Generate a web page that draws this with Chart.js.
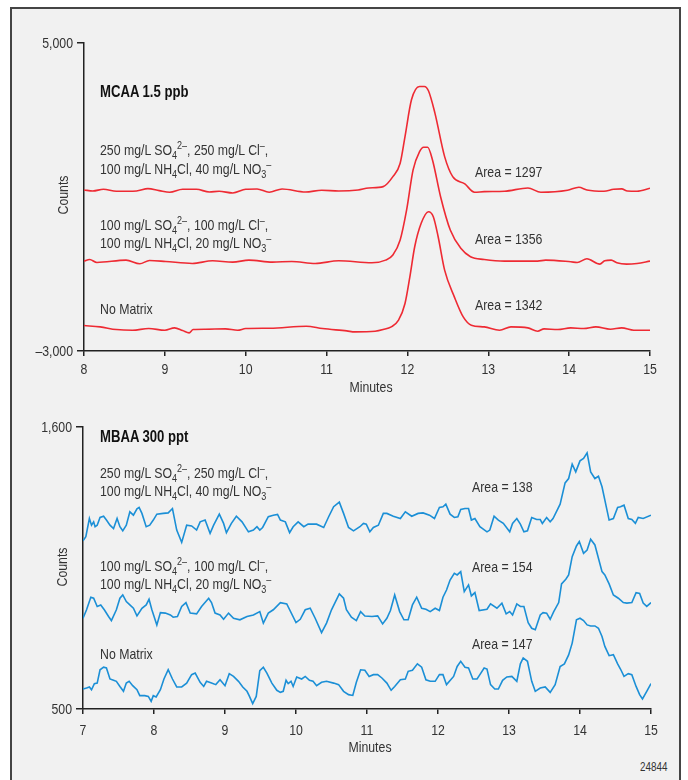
<!DOCTYPE html>
<html>
<head>
<meta charset="utf-8">
<script src="https://cdn.jsdelivr.net/npm/chart.js@4/dist/chart.umd.min.js"></script>
<style>
  html, body { margin:0; padding:0; background:#ffffff; }
  body { width:688px; height:780px; position:relative; overflow:hidden;
         font-family:'Liberation Sans',Arial,sans-serif; color:#333; }
  #frame { position:absolute; left:10px; top:7px; width:671px; height:800px;
           border:2px solid #444; background:#f1f1f1; box-sizing:border-box; }
  canvas { position:absolute; }
  .t { position:absolute; font-size:15px; line-height:15px; white-space:nowrap; color:#333;
       transform-origin:0 50%; transform:scaleX(0.82); }
  .c { transform-origin:50% 50%; transform:translateX(-50%) scaleX(0.82); }
  .b { font-weight:bold; color:#111; font-size:16px; }
  .sb { font-size:11px; position:relative; top:4px; }
  .sp { font-size:11px; position:relative; top:-6px; }
  .rot { transform-origin:50% 50%; transform:translate(-50%,-50%) rotate(-90deg) scaleX(0.82); }
</style>
</head>
<body>
<div id="frame"></div>
<canvas id="top" width="660" height="370" style="left:12px;top:20px"></canvas>
<canvas id="bot" width="660" height="350" style="left:12px;top:400px"></canvas>
<div id="labels"></div>
<script>
// ---------------- DATA ----------------
// Top panel: MCAA 1.5 ppb  [minutes, counts]
const mcaaXTicks = [8, 9, 10, 11, 12, 13, 14, 15];
const mcaaYTicks = [-3000, 5000];
const mcaaMatrix250 = [[8.00,1183],[8.11,1157],[8.24,1200],[8.40,1148],[8.65,1157],[8.79,1218],[8.93,1166],[9.06,1123],[9.22,1200],[9.39,1200],[9.55,1131],[9.67,1148],[9.84,1105],[10.00,1200],[10.14,1209],[10.29,1123],[10.45,1209],[10.74,1131],[10.94,1175],[11.15,1157],[11.39,1183],[11.52,1235],[11.70,1269],[11.82,1529],[11.91,1878],[11.97,2570],[12.05,3525],[12.15,3871],[12.21,3871],[12.26,3759],[12.34,3179],[12.46,2049],[12.56,1529],[12.71,1339],[12.83,1123],[12.95,1140],[13.20,1150],[13.49,1235],[13.65,1123],[13.98,1175],[14.12,1253],[14.22,1184],[14.43,1150],[14.55,1200],[14.65,1210],[14.72,1157],[14.84,1150],[15.00,1227]];
const mcaaMatrix100 = [[8.00,-665],[8.07,-622],[8.16,-700],[8.52,-640],[8.69,-735],[8.81,-648],[9.01,-674],[9.34,-726],[9.59,-657],[9.84,-691],[10.04,-640],[10.33,-691],[10.57,-674],[10.86,-726],[11.15,-657],[11.56,-709],[11.73,-640],[11.82,-508],[11.91,-118],[11.99,663],[12.07,1703],[12.15,2179],[12.20,2294],[12.25,2294],[12.31,1963],[12.41,1008],[12.53,142],[12.66,-334],[12.78,-553],[12.95,-622],[13.20,-665],[13.61,-665],[13.71,-640],[14.02,-683],[14.10,-700],[14.22,-605],[14.38,-744],[14.44,-657],[14.52,-640],[14.59,-709],[14.71,-744],[14.84,-726],[15.00,-665]];
const mcaaNoMatrix = [[8.00,-2339],[8.20,-2374],[8.40,-2443],[8.60,-2461],[8.80,-2417],[9.00,-2461],[9.12,-2400],[9.22,-2470],[9.30,-2530],[9.35,-2443],[9.50,-2435],[9.75,-2426],[9.90,-2461],[10.00,-2417],[10.30,-2409],[10.75,-2356],[10.95,-2417],[11.25,-2478],[11.35,-2504],[11.60,-2487],[11.70,-2443],[11.80,-2374],[11.89,-2200],[11.97,-1765],[12.03,-1073],[12.09,-292],[12.17,316],[12.26,618],[12.32,488],[12.38,-32],[12.46,-899],[12.58,-1593],[12.69,-2114],[12.79,-2330],[12.95,-2374],[13.14,-2461],[13.28,-2374],[13.49,-2400],[13.61,-2487],[13.69,-2426],[13.86,-2443],[14.02,-2400],[14.18,-2417],[14.33,-2374],[14.51,-2435],[14.65,-2400],[14.80,-2461],[15.00,-2461]];

// Bottom panel: MBAA 300 ppt  [minutes, counts]
const mbaaXTicks = [7, 8, 9, 10, 11, 12, 13, 14, 15];
const mbaaYTicks = [500, 1600];
const mbaaMatrix250 = [[7.00,1156],[7.04,1172],[7.09,1243],[7.12,1217],[7.15,1230],[7.17,1211],[7.20,1217],[7.24,1247],[7.29,1252],[7.33,1237],[7.38,1217],[7.43,1204],[7.48,1243],[7.52,1211],[7.56,1195],[7.61,1217],[7.66,1269],[7.71,1256],[7.76,1281],[7.79,1286],[7.83,1263],[7.89,1211],[7.94,1217],[7.99,1237],[8.04,1260],[8.13,1263],[8.20,1265],[8.26,1282],[8.32,1198],[8.39,1150],[8.46,1217],[8.53,1214],[8.60,1198],[8.65,1230],[8.72,1237],[8.79,1185],[8.84,1217],[8.92,1260],[8.98,1224],[9.02,1188],[9.09,1224],[9.16,1252],[9.24,1230],[9.33,1191],[9.40,1198],[9.45,1211],[9.49,1198],[9.53,1208],[9.61,1250],[9.68,1256],[9.74,1259],[9.78,1237],[9.85,1230],[9.91,1188],[9.96,1211],[10.03,1230],[10.11,1211],[10.17,1221],[10.29,1221],[10.39,1208],[10.46,1250],[10.53,1289],[10.61,1307],[10.67,1263],[10.74,1208],[10.81,1195],[10.90,1211],[10.95,1224],[10.99,1221],[11.04,1191],[11.09,1208],[11.16,1217],[11.23,1263],[11.28,1263],[11.37,1252],[11.47,1243],[11.54,1269],[11.63,1252],[11.72,1263],[11.79,1265],[11.88,1256],[11.95,1243],[12.02,1286],[12.07,1289],[12.11,1299],[12.17,1260],[12.23,1247],[12.28,1250],[12.32,1278],[12.38,1282],[12.43,1282],[12.47,1237],[12.52,1243],[12.59,1211],[12.69,1191],[12.73,1198],[12.79,1252],[12.85,1237],[12.92,1224],[13.01,1191],[13.05,1224],[13.11,1243],[13.16,1221],[13.21,1191],[13.26,1195],[13.32,1247],[13.39,1239],[13.44,1239],[13.47,1224],[13.53,1247],[13.58,1230],[13.62,1243],[13.72,1299],[13.79,1382],[13.84,1399],[13.89,1455],[13.94,1425],[14.00,1468],[14.05,1477],[14.10,1499],[14.15,1425],[14.21,1399],[14.26,1408],[14.31,1367],[14.41,1237],[14.47,1243],[14.53,1286],[14.57,1289],[14.62,1295],[14.68,1243],[14.73,1239],[14.78,1224],[14.82,1247],[14.89,1243],[15.00,1256]];
const mbaaMatrix100 = [[7.00,854],[7.05,887],[7.11,936],[7.15,932],[7.20,900],[7.25,906],[7.30,887],[7.36,861],[7.40,845],[7.47,887],[7.52,932],[7.56,945],[7.61,919],[7.66,906],[7.71,893],[7.76,863],[7.83,893],[7.89,906],[7.93,928],[7.97,887],[8.04,828],[8.09,876],[8.16,874],[8.23,867],[8.27,858],[8.33,861],[8.39,900],[8.45,915],[8.51,874],[8.60,871],[8.67,900],[8.77,932],[8.81,915],[8.86,874],[8.93,867],[8.98,850],[9.05,874],[9.12,854],[9.21,848],[9.31,861],[9.40,867],[9.49,880],[9.54,835],[9.61,874],[9.68,887],[9.78,915],[9.87,910],[10.00,837],[10.06,850],[10.13,887],[10.20,893],[10.27,854],[10.36,798],[10.43,835],[10.50,887],[10.61,949],[10.67,932],[10.71,887],[10.78,858],[10.85,845],[10.91,880],[10.97,863],[11.07,861],[11.15,863],[11.22,832],[11.28,854],[11.33,884],[11.39,945],[11.46,880],[11.52,848],[11.58,848],[11.64,906],[11.70,936],[11.77,893],[11.83,889],[11.89,880],[11.96,893],[12.02,884],[12.07,936],[12.12,964],[12.17,1003],[12.23,1029],[12.27,1023],[12.32,1036],[12.37,958],[12.43,984],[12.47,941],[12.52,954],[12.58,884],[12.69,889],[12.74,910],[12.83,893],[12.90,913],[12.96,871],[13.01,880],[13.05,867],[13.11,910],[13.16,900],[13.21,900],[13.27,837],[13.32,815],[13.37,809],[13.44,867],[13.48,876],[13.53,874],[13.58,850],[13.63,880],[13.70,915],[13.74,988],[13.80,1006],[13.84,1023],[13.89,1094],[13.95,1136],[13.99,1153],[14.05,1107],[14.10,1120],[14.15,1162],[14.21,1140],[14.31,1036],[14.35,1023],[14.41,988],[14.47,945],[14.54,932],[14.61,915],[14.66,913],[14.73,915],[14.79,954],[14.84,951],[14.89,913],[14.94,900],[15.00,915]];
const mbaaNoMatrix = [[7.00,578],[7.05,582],[7.09,586],[7.12,575],[7.16,599],[7.20,601],[7.24,653],[7.29,663],[7.33,660],[7.38,617],[7.43,612],[7.47,608],[7.52,588],[7.57,569],[7.61,601],[7.65,608],[7.70,591],[7.76,575],[7.80,552],[7.87,552],[7.92,549],[7.96,530],[7.99,552],[8.03,547],[8.09,575],[8.14,617],[8.20,653],[8.26,617],[8.32,586],[8.39,586],[8.46,601],[8.53,634],[8.58,640],[8.65,604],[8.70,588],[8.74,608],[8.81,601],[8.87,595],[8.93,614],[9.00,591],[9.06,638],[9.12,627],[9.19,608],[9.25,586],[9.31,569],[9.34,552],[9.39,521],[9.44,549],[9.49,650],[9.54,663],[9.59,640],[9.66,601],[9.73,573],[9.78,565],[9.82,569],[9.86,612],[9.89,599],[9.93,608],[9.96,588],[10.01,625],[10.08,617],[10.13,627],[10.19,612],[10.24,608],[10.29,591],[10.36,604],[10.43,608],[10.53,601],[10.60,595],[10.67,569],[10.74,556],[10.80,553],[10.85,604],[10.91,653],[10.97,651],[11.03,627],[11.09,634],[11.15,634],[11.21,621],[11.28,601],[11.34,573],[11.39,588],[11.47,614],[11.54,617],[11.58,647],[11.64,651],[11.71,676],[11.77,663],[11.83,614],[11.89,608],[11.96,608],[12.02,634],[12.07,634],[12.12,595],[12.22,627],[12.27,666],[12.32,686],[12.38,663],[12.43,660],[12.49,617],[12.55,617],[12.59,634],[12.65,660],[12.69,656],[12.74,595],[12.80,578],[12.85,578],[12.91,612],[12.97,625],[13.04,627],[13.11,608],[13.16,676],[13.20,699],[13.26,686],[13.32,608],[13.37,569],[13.44,582],[13.51,586],[13.58,565],[13.65,595],[13.72,666],[13.78,676],[13.84,711],[13.89,757],[13.95,848],[14.00,854],[14.05,845],[14.10,828],[14.15,824],[14.21,824],[14.26,815],[14.31,783],[14.35,744],[14.41,708],[14.47,712],[14.53,676],[14.57,656],[14.62,627],[14.68,638],[14.73,634],[14.79,588],[14.84,556],[14.88,539],[14.94,569],[15.00,599]];

// ---------------- STYLE ----------------
const FONT = "'Liberation Sans', Arial, sans-serif";
const AXIS = '#222';
const RED = '#ee2a33';
const BLUE = '#1b8fd6';
const SQUEEZE = 0.82;   // condensed look for the sans font
Chart.defaults.font.family = FONT;
Chart.defaults.font.size = 15;
Chart.defaults.color = '#333';

function fmt(v) {
  const s = Math.abs(v).toLocaleString('en-US');
  return v < 0 ? '\u2013' + s : s;
}
function ds(arr, color, tension) {
  return { data: arr.map(p => ({ x: p[0], y: p[1] })), borderColor: color, borderWidth: 1.6,
           pointRadius: 0, tension: tension, cubicInterpolationMode: tension ? 'monotone' : 'default', fill: false };
}
// Draws the scales' own tick labels in a condensed style
const condensedTicks = {
  id: 'condensedTicks',
  afterDraw(chart, args, opts) {
    const ctx = chart.ctx;
    ctx.save();
    ctx.fillStyle = '#333';
    ctx.font = '15px ' + FONT;
    const xs = chart.scales.x, ys = chart.scales.y;
    ctx.textAlign = 'center'; ctx.textBaseline = 'alphabetic';
    xs.ticks.forEach(t => {
      const px = xs.getPixelForValue(t.value);
      ctx.save(); ctx.translate(px, xs.top + opts.xBase); ctx.scale(SQUEEZE, 1);
      ctx.fillText(String(t.value), 0, 0); ctx.restore();
    });
    ctx.textAlign = 'right'; ctx.textBaseline = 'middle';
    ys.ticks.forEach(t => {
      const py = ys.getPixelForValue(t.value);
      ctx.save(); ctx.translate(ys.right - 11, py + 0.5); ctx.scale(SQUEEZE, 1);
      ctx.fillText(fmt(t.value), 0, 0); ctx.restore();
    });
    ctx.restore();
  }
};
function makeChart(id, sets, xTicks, yTicks, pad, yW, xH, xBase) {
  return new Chart(document.getElementById(id), {
    type: 'line',
    data: { datasets: sets },
    plugins: [condensedTicks],
    options: {
      responsive: false, devicePixelRatio: 1, animation: false,
      layout: { padding: pad },
      plugins: { legend: { display: false }, tooltip: { enabled: false }, condensedTicks: { xBase: xBase } },
      scales: {
        x: {
          type: 'linear', min: xTicks[0], max: xTicks[xTicks.length - 1],
          afterBuildTicks: s => { s.ticks = xTicks.map(v => ({ value: v })); },
          afterFit: s => { s.height = xH; },
          ticks: { display: false },
          grid: { drawOnChartArea: false, drawTicks: true, tickLength: 5, color: AXIS, lineWidth: 1.5 },
          border: { display: true, color: AXIS, width: 1.5 }
        },
        y: {
          type: 'linear', min: yTicks[0], max: yTicks[yTicks.length - 1],
          afterBuildTicks: s => { s.ticks = yTicks.map(v => ({ value: v })); },
          afterFit: s => { s.width = yW; },
          ticks: { display: false },
          grid: { drawOnChartArea: false, drawTicks: true, tickLength: 7, color: AXIS, lineWidth: 1.5 },
          border: { display: true, color: AXIS, width: 1.5 }
        }
      }
    }
  });
}

makeChart('top',
  [ds(mcaaMatrix250, RED, 0.35), ds(mcaaMatrix100, RED, 0.35), ds(mcaaNoMatrix, RED, 0.35)],
  mcaaXTicks, mcaaYTicks, { left: 0, right: 22, top: 23, bottom: 0 }, 72, 39, 23);
makeChart('bot',
  [ds(mbaaMatrix250, BLUE, 0), ds(mbaaMatrix100, BLUE, 0), ds(mbaaNoMatrix, BLUE, 0)],
  mbaaXTicks, mbaaYTicks, { left: 0, right: 21, top: 27, bottom: 0 }, 71, 41, 26);

// ---------------- TEXT ----------------
const SO4 = n => `${n} mg/L SO<span class="sb">4</span><span class="sp">2\u2013</span>, ${n} mg/L Cl<span class="sp">\u2013</span>,`;
const NH4 = n => `100 mg/L NH<span class="sb">4</span>Cl, ${n} mg/L NO<span class="sb">3</span><span class="sp">\u2013</span>`;
const texts = [
  // [html, x, baseline, class]
  ['MCAA 1.5 ppb', 100, 96, 'b'],
  [SO4(250), 100, 154], [NH4(40), 100, 173],
  [SO4(100), 100, 229], [NH4(20), 100, 247],
  ['No Matrix', 100, 313],
  ['Area = 1297', 475, 176], ['Area = 1356', 475, 243], ['Area = 1342', 475, 309],
  ['MBAA 300 ppt', 100, 441, 'b'],
  [SO4(250), 100, 477], [NH4(40), 100, 495],
  [SO4(100), 100, 570], [NH4(20), 100, 588],
  ['No Matrix', 100, 658],
  ['Area = 138', 472, 491], ['Area = 154', 472, 571], ['Area = 147', 472, 648],
  ['Minutes', 371, 391, 'c'], ['Minutes', 370, 751, 'c']
];
const host = document.getElementById('labels');
texts.forEach(t => {
  const d = document.createElement('div');
  d.className = 't ' + (t[3] || '');
  d.innerHTML = t[0];
  d.style.top = (t[2] - 12.5) + 'px';
  d.style.left = t[1] + 'px';
  host.appendChild(d);
});
[['Counts', 62, 195], ['Counts', 61, 567]].forEach(t => {
  const d = document.createElement('div');
  d.className = 't rot';
  d.textContent = t[0];
  d.style.left = t[1] + 'px'; d.style.top = t[2] + 'px';
  host.appendChild(d);
});
const id = document.createElement('div');
id.className = 't';
id.style.fontSize = '12px';
id.style.left = '640px';
id.style.top = '760px';
id.textContent = '24844';
host.appendChild(id);
</script>
</body>
</html>
